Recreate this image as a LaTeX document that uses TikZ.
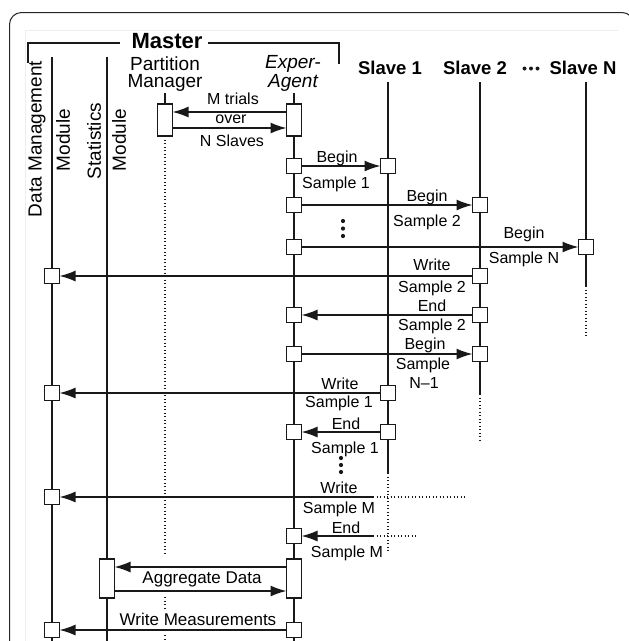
\documentclass[tikz,border=0pt]{standalone}
\usepackage{fontspec}
\setmainfont{Liberation Sans}
\usetikzlibrary{arrows.meta,calc}
\begin{document}
\begin{tikzpicture}[x=1pt,y=-1pt,
  ln/.style={line width=1.4pt, draw=black!90},
  dotl/.style={line width=1.2pt, draw=black!90, dash pattern=on 1.2pt off 2.3pt},
  sbox/.style={draw=black!90, line width=1.4pt, fill=white, minimum width=15pt, minimum height=15pt, inner sep=0pt, outer sep=0pt},
  tbox/.style={sbox, minimum height=32pt},
  abox/.style={sbox, minimum height=39pt},
  arr/.style={ln, -{Latex[length=16pt,width=11pt]}},
  lbl/.style={font=\fontsize{16}{18}\selectfont, inner sep=0pt, anchor=base},
  blbl/.style={font=\fontsize{17}{19}\selectfont, inner sep=0pt, anchor=base},
  hdr/.style={font=\fontsize{19}{17}\selectfont, inner sep=0pt, anchor=base, align=center},
  shdr/.style={font=\bfseries\fontsize{18.5}{21}\selectfont, inner sep=0pt, anchor=base},
  vlbl/.style={font=\fontsize{19}{21}\selectfont, inner sep=0pt, rotate=90},
  bul/.style={circle, fill=black!90, inner sep=0pt, minimum size=4pt}
]
\useasboundingbox (0,0) rectangle (629,641);
\clip (0,0) rectangle (629,641);

% outer frame
\draw[line width=1pt, black!85, rounded corners=12pt] (9.5,660) -- (9.5,12.5) -- (634,12.5) -- (634,660);
\draw[line width=0.6pt, black!7] (25,660) -- (25,30) -- (618,30);

% Master bracket
\node[font=\bfseries\fontsize{22}{24}\selectfont, inner sep=0pt, anchor=base] (master) at (167,48) {Master};
\draw[ln] (28,63) -- (28,43) -- (120,43);
\draw[ln] (208,43) -- (339,43) -- (339,64);

% headers
\node[vlbl] (dmA) at (37,139) {Data Management};
\node[vlbl] (dmB) at (63,140) {Module};
\node[vlbl] (stA) at (94,141) {Statistics};
\node[vlbl] (stB) at (119,140) {Module};
\node[hdr] (pm) at (165,87) {Partition\\Manager};
\node[hdr, font=\itshape\fontsize{19}{17}\selectfont] (ea) at (293,87) {Exper-\\Agent};
\node[shdr] (sl1) at (390,74) {Slave 1};
\node[shdr] (sl2) at (475,74) {Slave 2};
\node[shdr] (sln) at (583,74) {Slave N};
\node[bul] (b1) at (524.5,68.5) {};
\node[bul] (b2) at (531,68.5) {};
\node[bul] (b3) at (537.5,68.5) {};

% lifelines
\draw[ln] (52,57) -- (52,645);
\draw[ln] (107,57) -- (107,645);
\draw[ln] (165,93) -- (165,104);
\draw[dotl] (165,136) -- (165,553);
\draw[dotl] (165,597) -- (165,610);
\draw[dotl] (165,635) -- (165,645);
\draw[ln] (294,93) -- (294,645);
\draw[ln] (388,82) -- (388,473);
\draw[dotl] (388,473) -- (388,553);
\draw[ln] (480,82) -- (480,394);
\draw[dotl] (480,394) -- (480,440);
\draw[ln] (586,82) -- (586,286);
\draw[dotl] (586,286) -- (586,338);

% boxes
\node[tbox] (pm1) at (165,120) {};
\node[tbox] (ea1) at (294,120) {};
\node[sbox] (e1) at (294,166) {};
\node[sbox] (s11) at (388,166) {};
\node[sbox] (e2) at (294,205) {};
\node[sbox] (s21) at (480,205) {};
\node[sbox] (e3) at (294,247) {};
\node[sbox] (sn1) at (586,247) {};
\node[sbox] (s22) at (480,276) {};
\node[sbox] (d1) at (52,276) {};
\node[sbox] (s23) at (480,315) {};
\node[sbox] (e4) at (294,315) {};
\node[sbox] (e5) at (294,354) {};
\node[sbox] (s24) at (480,354) {};
\node[sbox] (s12) at (388,393) {};
\node[sbox] (d2) at (52,393) {};
\node[sbox] (s13) at (388,432) {};
\node[sbox] (e6) at (294,432) {};
\node[sbox] (d3) at (52,497) {};
\node[sbox] (e7) at (294,536) {};
\node[abox] (st1) at (107,578.5) {};
\node[abox] (ea2) at (294,578.5) {};
\node[sbox] (e8) at (294,630) {};
\node[sbox] (d4) at (52,630) {};

% messages
\draw[arr] ([yshift=-8pt]ea1.north west) -- ([yshift=-8pt]pm1.north east);
\draw[arr] ([yshift=8pt]pm1.south east) -- ([yshift=8pt]ea1.south west);
\node[lbl] at (233,104) {M trials};
\node[lbl] at (231,123) {over};
\node[lbl] at (232,146) {N Slaves};

\draw[arr] (e1) -- (s11);
\node[lbl] at (337,162) {Begin};
\node[lbl] at (336,188) {Sample 1};

\draw[arr] (e2) -- (s21);
\node[lbl] at (427,201) {Begin};
\node[lbl] at (427,226) {Sample 2};

\node[bul, minimum size=4.2pt] (v1) at (343,221) {};
\node[bul, minimum size=4.2pt] (v2) at (343,228.5) {};
\node[bul, minimum size=4.2pt] (v3) at (343,236) {};

\draw[arr] (e3) -- (sn1);
\node[lbl] at (524,238) {Begin};
\node[lbl] at (524,263) {Sample N};

\draw[arr] (s22) -- (d1);
\node[lbl] at (432,270) {Write};
\node[lbl] at (432,292) {Sample 2};

\draw[arr] (s23) -- (e4);
\node[lbl] at (432,311) {End};
\node[lbl] at (432,330) {Sample 2};

\draw[arr] (e5) -- (s24);
\node[lbl] at (425,349) {Begin};
\node[lbl] at (423,369) {Sample};
\node[lbl] at (424,388) {N–1};

\draw[arr] (s12) -- (d2);
\node[lbl] at (340,389) {Write};
\node[lbl] at (339,407) {Sample 1};

\draw[arr] (s13) -- (e6);
\node[lbl] at (346,429) {End};
\node[lbl] at (345,453) {Sample 1};

\node[bul, minimum size=4.2pt] (v4) at (341,458) {};
\node[bul, minimum size=4.2pt] (v5) at (341,465) {};
\node[bul, minimum size=4.2pt] (v6) at (341,472) {};

\coordinate (wm) at (373,497);
\coordinate (wmd) at (465,497);
\draw[arr] (wm) -- (d3);
\draw[dotl] (wm) -- (wmd);
\node[lbl] at (339,493) {Write};
\node[lbl] at (339,513) {Sample M};

\coordinate (em) at (373,536);
\coordinate (emd) at (417,536);
\draw[arr] (em) -- (e7);
\draw[dotl] (em) -- (emd);
\node[lbl] at (346,533) {End};
\node[lbl] at (347,557) {Sample M};

\draw[arr] ([yshift=-8pt]ea2.north west) -- ([yshift=-8pt]st1.north east);
\draw[arr] ([yshift=7pt]st1.south east) -- ([yshift=7pt]ea2.south west);
\node[blbl] at (202,583) {Aggregate Data};

\draw[arr] (e8) -- (d4);
\node[blbl] at (198,625) {Write Measurements};
\end{tikzpicture}
\end{document}
